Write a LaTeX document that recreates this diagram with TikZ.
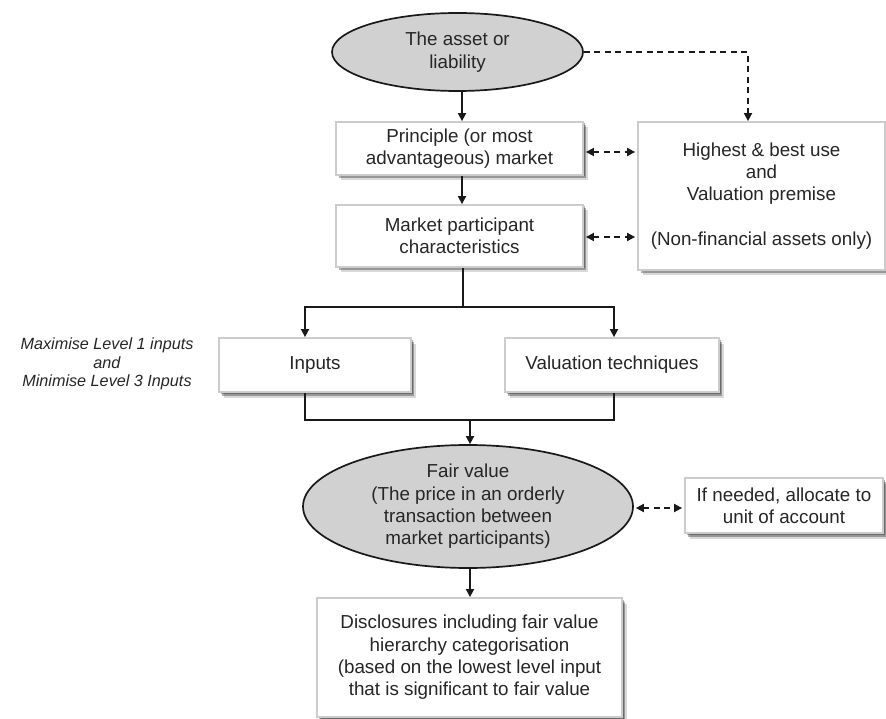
\documentclass[tikz,border=0pt]{standalone}
\usepackage{fontspec}
\setmainfont{Liberation Sans}
\usetikzlibrary{arrows.meta,shadows,shapes.geometric,calc}
\begin{document}
\begin{tikzpicture}[x=1pt,y=-1pt,
  txt/.style={font=\fontsize{18.8}{22.3}\selectfont, text=black!85, align=center},
  box/.style={txt, rectangle, draw=black!20, line width=1.8pt, fill=white, inner sep=0pt,
    drop shadow={shadow xshift=1.5pt, shadow yshift=-1.5pt, opacity=0.3, fill=black},
    drop shadow={shadow xshift=3pt, shadow yshift=-3.5pt, opacity=0.3, fill=black},
    drop shadow={shadow xshift=4.5pt, shadow yshift=-5.5pt, opacity=0.15, fill=black}},
  oval/.style={txt, ellipse, draw=black!90, line width=1.7pt, fill=black!18, inner sep=0pt},
  ln/.style={line width=1.7pt, draw=black!90},
  arr/.style={ln, -{Triangle[length=8pt,width=8pt]}},
  dar/.style={arr, dash pattern=on 6pt off 4.5pt},
  ddar/.style={ln, dash pattern=on 6pt off 4.5pt, {Triangle[length=8pt,width=8pt]}-{Triangle[length=8pt,width=8pt]}},
  note/.style={font=\fontsize{16.2}{18.5}\selectfont\itshape, text=black!85, align=center},
]
\useasboundingbox (0,0) rectangle (886,719);

% nodes
\node[oval, minimum width=251pt, minimum height=78pt] (top) at (457.5,52) {The asset or\\liability};
\node[box, minimum width=247pt, minimum height=53pt] (prin) at (459.5,148.5) {Principle (or most\\advantageous) market};
\node[box, minimum width=247pt, minimum height=62pt] (mkt) at (459.5,236) {Market participant\\characteristics};
\node[box, minimum width=247pt, minimum height=148pt] (high) at (761.5,196) {Highest \& best use\\and\\Valuation premise\\[22.3pt](Non-financial assets only)};
\node[box, minimum width=192pt, minimum height=54pt] (inp) at (315,365) {Inputs};
\node[box, minimum width=214pt, minimum height=54pt] (val) at (612,365) {Valuation techniques};
\node[note] (lvl) at (107,364) {Maximise Level 1 inputs\\and\\Minimise Level 3 Inputs};
\node[oval, minimum width=330pt, minimum height=123pt] (fv) at (468,506.5) {Fair value\\(The price in an orderly\\transaction between\\market participants)};
\node[box, minimum width=198pt, minimum height=55pt] (unit) at (784,505.5) {If needed, allocate to\\unit of account};
\node[box, minimum width=305pt, minimum height=119pt] (disc) at (469.5,657.5) {Disclosures including fair value\\hierarchy categorisation\\(based on the lowest level input\\that is significant to fair value};

% helper coordinates
\coordinate (cx) at (462,0);
\coordinate (j1) at (463,307);
\coordinate (ix) at (305,0);
\coordinate (vx) at (614,0);
\coordinate (j2) at (470,420);
\coordinate (hx) at (748,0);

% solid connectors
\draw[arr] (top.south -| cx) -- (prin.north -| cx);
\draw[arr] (prin.south -| cx) -- (mkt.north -| cx);
\draw[ln] (mkt.south -| j1) -- (j1);
\draw[arr] (j1) -| (inp.north -| ix);
\draw[arr] (j1) -| (val.north -| vx);
\draw[ln] (inp.south -| ix) |- (j2) -| (val.south -| vx);
\draw[arr] (j2) -- (fv.north -| j2);
\draw[arr] (fv.south -| j2) -- (disc.north -| j2);

% dashed connectors
\draw[dar] (top.east) -| (high.north -| hx);
\draw[ddar] ([xshift=2pt,yshift=-3.5pt]prin.east) -- ([xshift=-2pt,yshift=-3.5pt]prin.east -| high.west);
\draw[ddar] ([xshift=2pt,yshift=-1pt]mkt.east) -- ([xshift=-2pt,yshift=-1pt]mkt.east -| high.west);
\draw[ddar] ([xshift=2pt,yshift=-1.5pt]fv.east) -- ([xshift=-2pt,yshift=-1.5pt]fv.east -| unit.west);
\end{tikzpicture}
\end{document}
